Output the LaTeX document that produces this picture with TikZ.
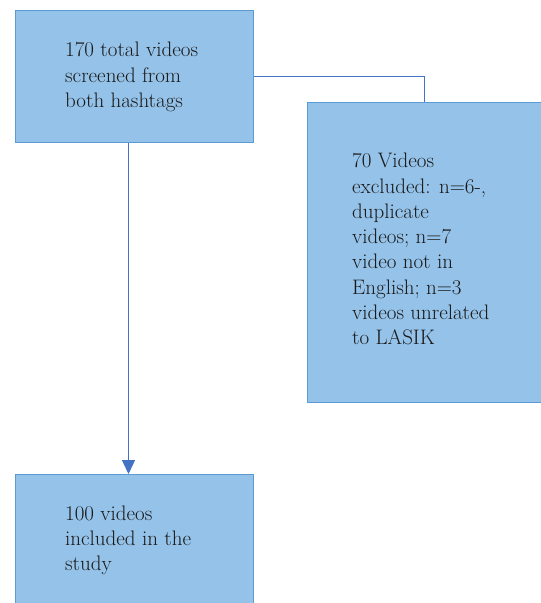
\documentclass[tikz,border=0pt]{standalone}
\usetikzlibrary{arrows.meta}
\definecolor{boxfill}{HTML}{95C2E8}
\definecolor{boxedge}{HTML}{5B9BD5}
\definecolor{linecol}{HTML}{4472C4}
\tikzset{
  flowbox/.style={draw=boxedge, fill=boxfill, line width=1pt, rectangle, inner sep=0pt, anchor=north west},
  boxtext/.style={anchor=north west, align=left, inner sep=0pt, text=black!90,
    font=\fontsize{21}{25.3}\selectfont},
  conn/.style={draw=linecol, line width=1.3pt}
}
\begin{document}
\begin{tikzpicture}[x=1pt,y=-1pt]
\useasboundingbox (0,0) rectangle (541,603);
\fill[white] (0,0) rectangle (541,603);
\node[flowbox, minimum width=238pt, minimum height=132pt] (box1) at (15,10) {};
\node[flowbox, minimum width=240pt, minimum height=300pt] (box2) at (306.5,102) {};
\node[flowbox, minimum width=238pt, minimum height=140pt] (box3) at (15,474) {};
\node[boxtext] (t1) at (65,42) {170 total videos\\screened from\\both hashtags};
\node[boxtext] (t2) at (352,153) {70 Videos\\excluded: n=6-,\\duplicate\\videos; n=7\\video not in\\English; n=3\\videos unrelated\\to LASIK};
\node[boxtext] (t3) at (65,505.5) {100 videos\\included in the\\study};
\draw[conn] (box1.east) -| ([xshift=-2.5pt]box2.north);
\draw[conn, -{Triangle[width=13pt,length=14pt]}, linecol] ([xshift=-6pt]box1.south) -- ([xshift=-6pt]box3.north);
\end{tikzpicture}
\end{document}
